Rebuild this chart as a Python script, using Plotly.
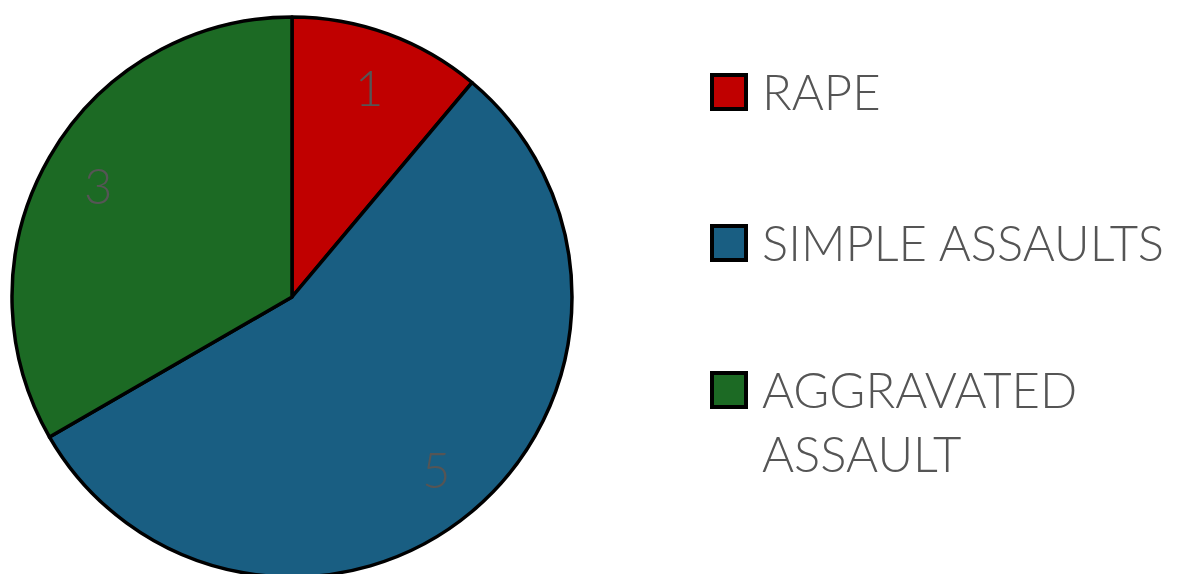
import math
import plotly.graph_objects as go

categories = ["RAPE", "SIMPLE ASSAULTS", "AGGRAVATED<br>ASSAULT"]
values = [1, 5, 3]
colors = ["#C00000", "#195E82", "#1C6A24"]

W, H = 1182, 580
FONT = "Lato"
TXT = "#555555"
FS = 49

# pie placement (pixels)
CX, CY, R = 292, 297, 280

fig = go.Figure(go.Pie(
    labels=categories, values=values, sort=False, direction="clockwise", rotation=0,
    marker=dict(colors=colors, line=dict(color="#000000", width=3.5)),
    textinfo="none",
    domain=dict(x=[(CX - R) / W, (CX + R) / W], y=[1 - (CY + R) / H, 1 - (CY - R) / H]),
    showlegend=False, hoverinfo="label+value",
))

annos, shapes = [], []

# value labels placed at each slice's mid-angle (clockwise from 12 o'clock)
total = sum(values)
cum = 0
for v in values:
    mid = (cum + v / 2) / total * 2 * math.pi
    cum += v
    px = CX + 0.8 * R * math.sin(mid)
    py = CY - 0.8 * R * math.cos(mid)
    annos.append(dict(xref="paper", yref="paper", x=px / W, y=1 - py / H,
                      xanchor="center", yanchor="middle", showarrow=False,
                      text=str(v), font=dict(family=FONT, size=FS, color=TXT, weight=300)))

# manual legend with large swatches
item_y = [92, 243, 390]
for i, (lab, col) in enumerate(zip(categories, colors)):
    cy = item_y[i]
    shapes.append(dict(type="rect", xref="paper", yref="paper",
                       x0=712 / W, x1=746 / W, y0=1 - (cy + 17) / H, y1=1 - (cy - 17) / H,
                       fillcolor=col, line=dict(color="#000000", width=4)))
    annos.append(dict(xref="paper", yref="paper", x=760 / W, y=1 - (cy - 32) / H,
                      xanchor="left", yanchor="top", align="left", showarrow=False,
                      text=lab, font=dict(family=FONT, size=FS, color=TXT, weight=300)))

fig.update_layout(
    width=W, height=H, autosize=False,
    margin=dict(l=0, r=0, t=0, b=0),
    paper_bgcolor="white", plot_bgcolor="white",
    shapes=shapes, annotations=annos,
)

fig.write_html("out.html", config={"displayModeBar": False},
               post_script="document.body.style.margin='0';document.body.style.overflow='hidden';")
